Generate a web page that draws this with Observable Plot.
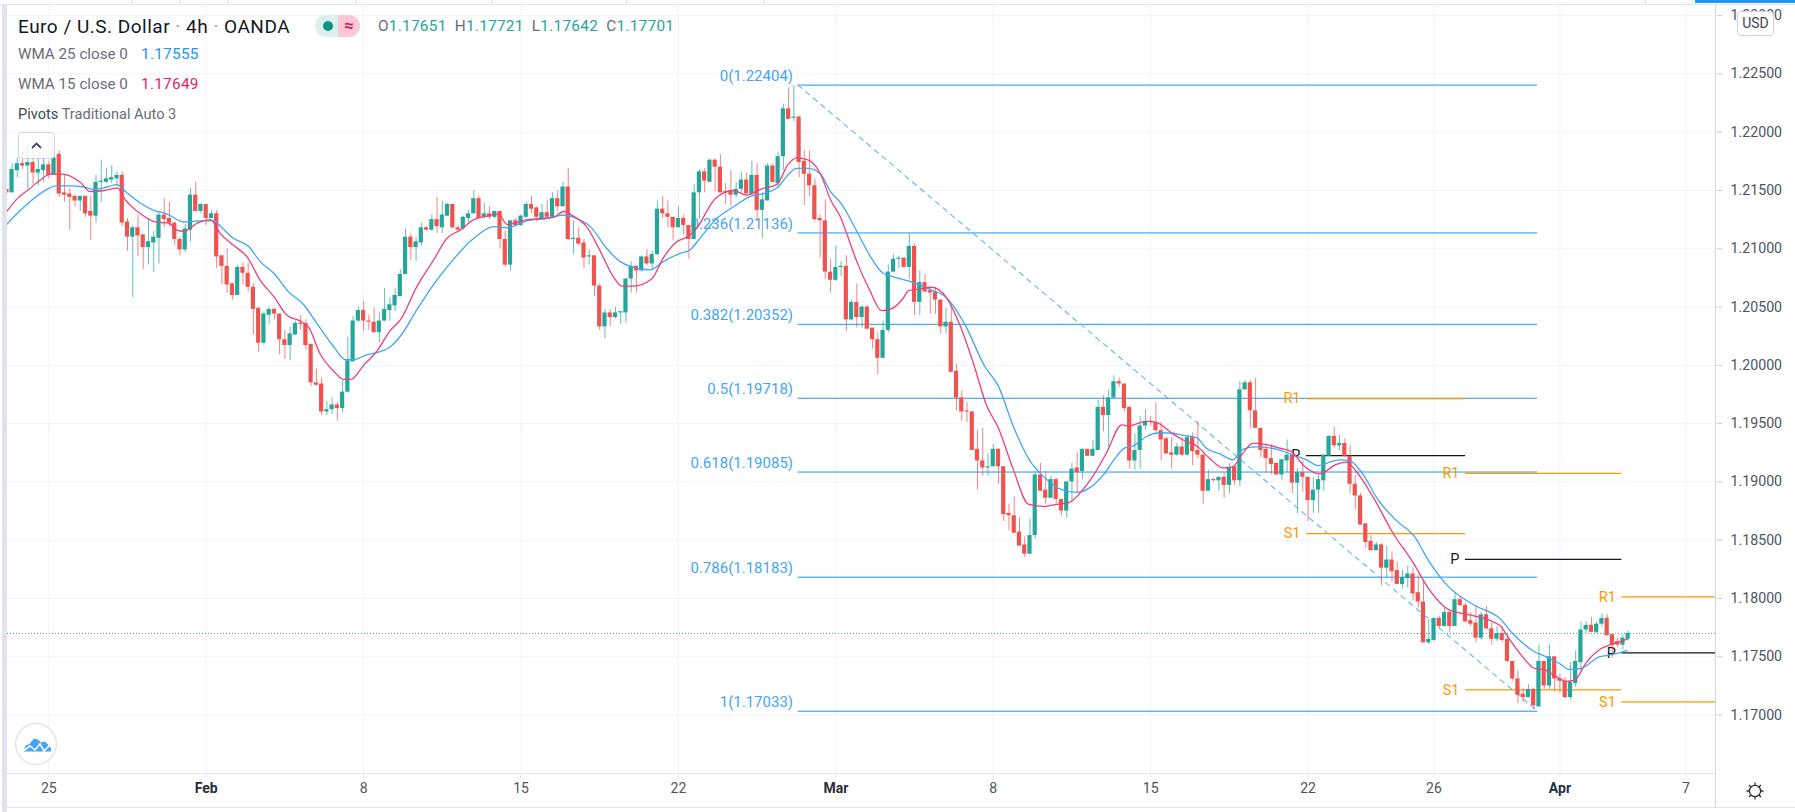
<!DOCTYPE html>
<html><head><meta charset="utf-8">
<script src="https://cdn.jsdelivr.net/npm/d3@7"></script>
<script src="https://cdn.jsdelivr.net/npm/@observablehq/plot@0.6"></script>
<style>
html,body{margin:0;padding:0;background:#fff;overflow:hidden}
#wrap{position:relative;width:1795px;height:812px;font-family:Roboto,sans-serif}
#wrap svg.plot{display:block}
.o{position:absolute;white-space:nowrap;line-height:1}
.b{position:absolute;background:#e0e3eb}
</style></head><body><div id="wrap"></div>
<script>
// Prices are in 1/10000 units (pips)
const opens=[12151,12148,12167,12173,12171,12174,12165,12167,12172,12163,
12181,12148,12147,12145,12141,12145,12132,12128,12157,12157,
12159,12160,12163,12123,12110,12118,12112,12101,12105,12109,
12129,12126,12122,12108,12099,12116,12146,12132,12138,12126,
12130,12094,12085,12070,12060,12084,12079,12067,12049,12019,
12043,12048,12044,12022,12017,12026,12036,12036,12018,11985,
11984,11960,11962,11966,11963,11977,12003,12038,12047,12038,
12037,12028,12038,12047,12051,12059,12078,12110,12101,12105,
12118,12116,12125,12118,12128,12138,12118,12117,12126,12130,
12143,12127,12130,12127,12132,12108,12086,12124,12120,12127,
12138,12135,12126,12131,12127,12143,12136,12153,12108,12109,
12105,12093,12094,12068,12033,12045,12041,12045,12045,12074,
12085,12081,12093,12087,12095,12134,12130,12127,12118,12126,
12120,12108,12148,12166,12157,12176,12170,12149,12150,12146,
12151,12159,12147,12163,12133,12141,12171,12156,12179,12220,
12212,12213,12175,12164,12154,12126,12124,12080,12073,12084,
12085,12039,12054,12041,12050,12032,12022,12006,12030,12080,
12091,12092,12084,12102,12054,12071,12064,12063,12056,12033,
12037,11995,11972,11961,11960,11928,11918,11912,11913,11928,
11913,11873,11871,11857,11846,11838,11854,11906,11893,11886,
11902,11885,11875,11900,11912,11909,11928,11922,11927,11964,
11957,11972,11986,11984,11964,11918,11927,11948,11952,11951,
11944,11937,11925,11923,11930,11923,11938,11927,11923,11892,
11902,11901,11904,11897,11913,11901,11979,11985,11961,11946,
11928,11920,11916,11906,11918,11923,11899,11908,11904,11884,
11893,11901,11922,11939,11931,11933,11922,11898,11888,11864,
11849,11841,11846,11826,11833,11824,11812,11817,11821,11805,
11797,11762,11764,11783,11776,11788,11776,11799,11794,11781,
11779,11766,11786,11774,11765,11770,11765,11746,11731,11718,
11715,11722,11707,11746,11725,11750,11731,11729,11715,11727,
11745,11773,11777,11771,11778,11783,11769,11763,11760,11765];
const highs=[12151,12173,12178,12184,12190,12186,12185,12177,12175,12181,
12184,12163,12152,12146,12145,12145,12145,12163,12176,12169,
12171,12166,12166,12126,12120,12129,12112,12126,12115,12131,
12143,12140,12123,12110,12121,12152,12157,12139,12138,12133,
12133,12094,12100,12070,12086,12088,12088,12070,12049,12046,
12050,12049,12044,12030,12033,12038,12043,12039,12018,11997,
11989,11969,11972,11968,11987,12024,12042,12050,12055,12043,
12049,12045,12066,12058,12066,12082,12117,12113,12110,12122,
12119,12129,12144,12141,12139,12138,12120,12128,12133,12150,
12145,12139,12136,12132,12132,12115,12124,12126,12129,12140,
12145,12136,12138,12141,12148,12150,12157,12169,12124,12118,
12108,12099,12094,12070,12048,12048,12050,12046,12075,12089,
12085,12094,12099,12098,12141,12145,12141,12127,12136,12129,
12120,12155,12168,12169,12177,12177,12181,12156,12167,12157,
12166,12165,12175,12173,12148,12173,12173,12183,12224,12238,
12240,12214,12184,12184,12160,12129,12142,12091,12102,12089,
12094,12056,12070,12051,12051,12032,12028,12038,12086,12095,
12094,12092,12113,12104,12081,12078,12067,12067,12056,12049,
12052,12001,11978,11968,11960,11944,11946,11924,11932,11928,
11913,11881,11887,11869,11853,11868,11909,11916,11909,11905,
11903,11885,11900,11916,11925,11928,11928,11936,11970,11974,
11979,11991,11989,11984,11964,11941,11956,11962,11956,11968,
11951,11938,11938,11933,11938,11939,11942,11952,11923,11910,
11903,11904,11908,11916,11914,11986,11987,11987,11989,11946,
11933,11932,11916,11919,11936,11927,11911,11918,11904,11904,
11906,11923,11940,11947,11940,11937,11931,11906,11890,11864,
11854,11848,11847,11845,11840,11831,11824,11828,11826,11820,
11816,11782,11783,11785,11792,11789,11805,11801,11796,11788,
11794,11788,11793,11779,11776,11776,11769,11746,11738,11723,
11726,11723,11760,11746,11760,11750,11735,11732,11745,11755,
11780,11780,11784,11780,11787,11786,11769,11766,11769,11772];
const lows=[12148,12148,12161,12168,12151,12155,12154,12157,12160,12163,
12144,12140,12116,12136,12132,12127,12107,12122,12140,12156,
12156,12153,12119,12098,12058,12093,12082,12086,12080,12087,
12118,12119,12103,12094,12097,12106,12132,12130,12120,12126,
12083,12069,12062,12056,12060,12069,12063,12026,12011,12017,
12035,12039,12009,12005,12004,12026,12030,12013,11982,11982,
11957,11957,11958,11952,11959,11976,12003,12037,12029,12030,
12028,12019,12038,12038,12046,12059,12078,12090,12089,12102,
12115,12115,12113,12113,12128,12117,12115,12116,12122,12130,
12126,12125,12125,12126,12100,12084,12081,12119,12119,12126,
12130,12123,12126,12126,12126,12132,12136,12107,12095,12103,
12083,12086,12059,12030,12023,12033,12040,12035,12036,12062,
12062,12080,12086,12082,12094,12126,12118,12107,12118,12112,
12091,12108,12125,12148,12157,12149,12148,12138,12136,12144,
12148,12147,12146,12124,12109,12141,12156,12153,12167,12211,
12209,12161,12137,12145,12123,12092,12074,12062,12072,12076,
12029,12038,12032,12032,12031,12014,11992,12006,12028,12079,
12083,12084,12074,12043,12043,12062,12044,12044,12027,12027,
11994,11961,11952,11951,11927,11893,11905,11905,11913,11898,
11866,11858,11856,11845,11835,11838,11851,11892,11881,11886,
11881,11871,11869,11882,11891,11902,11922,11922,11927,11943,
11929,11972,11981,11960,11911,11910,11911,11944,11948,11942,
11918,11924,11911,11922,11922,11922,11914,11920,11881,11892,
11900,11892,11886,11890,11897,11896,11979,11946,11946,11921,
11908,11906,11906,11901,11908,11890,11873,11891,11866,11873,
11873,11892,11922,11929,11927,11921,11890,11876,11863,11843,
11841,11841,11811,11818,11814,11812,11808,11809,11798,11792,
11762,11761,11763,11774,11776,11771,11776,11793,11779,11776,
11762,11764,11773,11760,11763,11762,11745,11729,11710,11711,
11715,11705,11707,11722,11722,11720,11719,11714,11713,11724,
11738,11770,11771,11770,11775,11768,11749,11758,11756,11764];
const closes=[12148,12168,12173,12171,12174,12165,12168,12172,12163,12178,
12147,12146,12144,12141,12145,12130,12128,12157,12158,12160,
12161,12163,12122,12110,12118,12111,12101,12106,12110,12129,
12125,12122,12108,12099,12117,12146,12132,12138,12126,12130,
12093,12085,12069,12060,12084,12079,12067,12048,12019,12044,
12048,12044,12022,12017,12027,12036,12035,12017,11985,11983,
11960,11962,11966,11963,11977,12004,12038,12047,12038,12037,
12028,12038,12048,12052,12060,12078,12110,12101,12106,12118,
12116,12125,12119,12129,12138,12118,12116,12127,12130,12143,
12126,12130,12127,12132,12108,12086,12124,12120,12128,12138,
12134,12127,12131,12127,12143,12136,12153,12108,12109,12104,
12092,12094,12068,12033,12045,12041,12045,12046,12074,12085,
12081,12093,12087,12095,12134,12130,12127,12118,12126,12120,
12108,12148,12166,12158,12176,12170,12148,12148,12146,12151,
12159,12147,12163,12133,12142,12171,12157,12179,12220,12211,
12213,12174,12164,12154,12125,12124,12080,12073,12084,12085,
12039,12054,12041,12050,12031,12022,12006,12030,12080,12091,
12092,12084,12102,12054,12071,12063,12062,12056,12033,12037,
11994,11972,11960,11960,11927,11918,11912,11913,11928,11913,
11872,11871,11856,11845,11838,11854,11906,11892,11886,11902,
11885,11875,11900,11911,11908,11928,11922,11928,11964,11957,
11972,11986,11984,11963,11918,11927,11948,11952,11951,11944,
11936,11924,11923,11930,11923,11938,11926,11923,11892,11902,
11901,11904,11897,11912,11901,11979,11985,11961,11946,11927,
11920,11915,11906,11919,11923,11899,11908,11904,11884,11893,
11902,11923,11939,11931,11933,11922,11898,11888,11863,11848,
11841,11846,11826,11833,11823,11812,11818,11821,11804,11797,
11762,11765,11783,11776,11788,11776,11799,11794,11780,11778,
11766,11786,11774,11765,11770,11764,11746,11731,11717,11715,
11722,11708,11746,11725,11750,11731,11729,11715,11728,11746,
11773,11777,11771,11778,11783,11768,11760,11760,11766,11770];

const wma25Bars=[0,2.6,5.1,7.7,9.3,12.1,14.7,16.6,19.1,21,22.9,25.5,28,30.5,33.7,36.9,39.4,41,43.2,46.1,48.3,50.9,53.7,56.6,59.1,62.3,64.5,66.1,68.6,70.5,73.1,75,78.2,81.3,84.2,89,92.8,95.3,99.1,102.9,106.1,108,111.2,114.4,116.9,118.8,122.6,125.1,128.3,130.2,132.1,135.3,138.5,141.7,144.8,147,149,150.5,152.8,155.1,157,159,162,164.5,167,169,172.1,176,179.1,182.6,186.4,189,191.8,195,197.5,200.7,203.9,206.7,209,211.5,213,214.7,217.2,219.4,221.7,224.2,226.7,228.6,231.2,233.7,235.6,238,242.1,245.2,247.7,250,251.5,254,256,257.9,261.6,264.8,268.3,270.9,274.8,279.8,284.5,287,290.9,293.4,296,297.9,300,303.5,306.1,308.8];
const wma25Vals=[12121,12133,12143,12151,12154,12154,12153,12151,12153,12155,12148,12139,12133,12130,12123,12124,12124,12118,12109,12102,12089,12079,12063,12052,12036,12016,12005,12005,12009,12011,12016,12025,12048,12069,12086,12109,12119,12118,12124,12126,12129,12127,12119,12100,12089,12085,12082,12089,12096,12099,12109,12126,12136,12145,12148,12153,12164,12169,12169,12164,12149,12139,12115,12094,12079,12076,12072,12065,12058,12035,11999,11982,11948,11918,11905,11894,11891,11896,11906,11922,11929,11931,11939,11942,11942,11940,11938,11929,11924,11919,11928,11930,11928,11923,11919,11914,11916,11919,11918,11910,11883,11867,11853,11833,11810,11794,11783,11770,11755,11750,11744,11739,11740,11750,11752,11755.5];
const wma15Bars=[0,2,4.2,6.4,8.3,10.5,14,15.9,18.5,21.1,22.6,25.5,28.3,30.9,32.4,33.7,36.3,38.8,40.7,43.2,45.8,48.3,50.9,53.4,55.9,57.5,59.7,62.3,64.2,65.6,68,70.5,73.1,75,78.2,81.3,83.9,86.4,89,91.5,93.7,95.3,96.9,99.1,101.7,104.2,106.1,108,110.5,113.1,115.6,117.2,119.4,122.9,125.1,127.7,129.6,131.2,135,138.5,141,143.6,146.7,149,150.5,152.8,155.1,157,159,160,162,164.5,166.7,168.3,170.9,171.8,173.4,176.3,179.1,181.7,184.2,186.7,189,191.8,194.7,197.5,200.4,202.3,205.2,207,209.6,212.5,213.7,217.2,219.1,222.3,224.2,226.7,229.3,231.8,233.7,235.3,237.5,240,242.6,244.8,247.4,250.2,253.4,255.3,257.2,260.4,264.2,268,270.9,275,278.8,284.5,286.4,288.9,291.2,293,295.3,297.2,298.8,301,303.5,306.1,308.8];
const wma15Vals=[12132,12143,12151,12159,12164,12164,12157,12149,12150,12152,12142,12130,12123,12122,12116,12115,12122,12125,12113,12103,12093,12073,12059,12043,12038,12033,12010,11995,11988,11988,12000,12012,12030,12039,12068,12090,12109,12116,12125,12128,12130,12121,12122,12125,12126,12127,12132,12128,12119,12098,12076,12068,12068,12074,12092,12106,12110,12116,12143,12150,12146,12151,12155,12173,12178,12176,12164,12142,12126,12114,12089,12064,12047,12048,12058,12064,12065,12067,12058,12034,12002,11966,11946,11911,11881,11879,11881,11882,11894,11905,11925,11949,11948,11952,11951,11941,11936,11931,11920,11912,11913,11923,11933,11932,11929,11926,11913,11907,11915,11917,11909,11887,11856,11831,11809,11790,11786,11777,11765,11750,11740,11739,11733,11729,11730,11745,11756,11761,11765];

const fibRatios=["0","0.236","0.382","0.5","0.618","0.786","1"];
const fibLevels=[1.22404,1.21136,1.20352,1.19718,1.19085,1.18183,1.17033];
const fibStart=150.8, fibEnd=291.75;

const pivotNames=["R1","P","S1","R1","P","S1","R1","P","S1"];
const pivotLevels=[1.19714,1.19225,1.18556,1.19073,1.18336,1.17216,1.18014,1.17533,1.17113];
const pivotStarts=[247.7,247.7,247.7,278,278,278,307.8,307.8,307.8];
const pivotEnds=[278,278,278,307.8,307.8,307.8,325.84,325.84,325.84];

const lastPrice=1.17701;
const priceTicks=[1.17,1.175,1.18,1.185,1.19,1.195,1.2,1.205,1.21,1.215,1.22,1.225,1.23];
const dateTicks=[8,38,68,98,128,158,188,218,248,272,296,320];
const dateLabels=["25","Feb","8","15","22","Mar","8","15","22","26","Apr","7"];
const boldLabels=["Feb","Mar","Apr"];

const bars=opens.map((o,i)=>({i,o:o/1e4,h:highs[i]/1e4,l:lows[i]/1e4,c:closes[i]/1e4,up:closes[i]>=o}));
const wma25=wma25Bars.map((i,k)=>({i,v:wma25Vals[k]/1e4}));
const wma15=wma15Bars.map((i,k)=>({i,v:wma15Vals[k]/1e4}));
const fibs=fibLevels.map((v,k)=>({v,label:`${fibRatios[k]}(${v.toFixed(5)})`}));
const pivots=pivotNames.map((n,k)=>({n,v:pivotLevels[k],a:pivotStarts[k],b:pivotEnds[k]}));
const labelOf=d=>dateLabels[dateTicks.indexOf(d)];
const GREEN="#26a69a",RED="#ef5350",AXIS="#50535e",FIB="#2196f3",ORANGE="#ff9800",BLK="#131722";
const isBold=d=>boldLabels.includes(labelOf(d));

const chart=Plot.plot({
  width:1795,height:812,marginLeft:7,marginRight:79,marginTop:5,marginBottom:39,
  x:{domain:[0.133,325.84],axis:null},
  y:{domain:[1.16499,1.23087],axis:null},
  style:{fontFamily:"Roboto,sans-serif",background:"transparent",overflow:"visible"},
  marks:[
    Plot.gridY({ticks:priceTicks,stroke:"#f0f3fa",strokeOpacity:1}),
    Plot.gridX({ticks:dateTicks,stroke:"#f0f3fa",strokeOpacity:1}),
    Plot.axisY({anchor:"right",ticks:priceTicks,tickFormat:d=>d.toFixed(5),tickSize:5,tickPadding:9,fontSize:14.2,fill:AXIS,stroke:"#c8cad2",label:null}),
    Plot.axisX({anchor:"bottom",ticks:dateTicks.filter(d=>!isBold(d)),tickFormat:labelOf,tickSize:4,tickPadding:6,fontSize:14,fill:AXIS,stroke:"#e0e3eb",label:null}),
    Plot.axisX({anchor:"bottom",ticks:dateTicks.filter(isBold),tickFormat:labelOf,tickSize:4,tickPadding:6,fontSize:14,fontWeight:700,fill:"#2a2e39",stroke:"#e0e3eb",label:null}),
    Plot.ruleY([lastPrice],{stroke:GREEN,strokeDasharray:"1,2",strokeWidth:1}),
    Plot.ruleY(fibs,{y:"v",x1:fibStart,x2:fibEnd,stroke:FIB,strokeWidth:1}),
    Plot.line([{i:fibStart,v:fibLevels[0]},{i:fibEnd,v:fibLevels[6]}],{x:"i",y:"v",stroke:"#64b5f6",strokeWidth:1.1,strokeDasharray:"5,5"}),
    Plot.text(fibs,{x:fibStart,y:"v",text:"label",textAnchor:"end",dx:-5,dy:-9,fill:"#42a5f5",fontSize:15}),
    Plot.ruleY(pivots,{y:"v",x1:"a",x2:"b",stroke:d=>d.n==="P"?BLK:ORANGE,strokeWidth:1.2}),
    Plot.text(pivots,{x:"a",y:"v",text:"n",textAnchor:"end",dx:-6,fill:d=>d.n==="P"?BLK:ORANGE,fontSize:14.5}),
    Plot.ruleX(bars,{x:"i",y1:"l",y2:"h",stroke:d=>d.up?GREEN:RED,strokeWidth:1,strokeOpacity:.72,clip:true}),
    Plot.rect(bars,{x1:d=>d.i-.4,x2:d=>d.i+.4,y1:"o",y2:"c",fill:d=>d.up?GREEN:RED,clip:true}),
    Plot.line(wma25,{x:"i",y:"v",stroke:"#42a5f5",strokeWidth:1.3,curve:"monotone-x"}),
    Plot.line(wma15,{x:"i",y:"v",stroke:"#ec407a",strokeWidth:1.3,curve:"monotone-x"})
  ]
});
const wrap=document.getElementById("wrap");
wrap.appendChild(chart);
const add=(html)=>wrap.insertAdjacentHTML("beforeend",html);
// chart chrome
add(`<div class="b" style="left:2px;top:5px;width:5px;height:807px"></div>
<div class="b" style="left:0;top:4px;width:1795px;height:1px"></div>
<div class="b" style="left:7px;top:773px;width:1709px;height:1px"></div>
<div class="b" style="left:7px;top:807px;width:1788px;height:1px"></div>
<div class="b" style="left:1715px;top:5px;width:1px;height:802px;background:#d6d8de"></div>
<div class="b" style="left:1695px;top:0;width:100px;height:3px;background:#2196f3"></div>`);
[132,180,228,356,491,626,763,1645].forEach(x=>add(`<div class="b" style="left:${x}px;top:0;width:1px;height:4px"></div>`));
// header
add(`<div class="o" style="left:18px;top:17px;font-size:19px;letter-spacing:.5px;color:#131722">Euro / U.S. Dollar<span style="color:#9598a1"> · </span>4h<span style="color:#9598a1"> · </span>OANDA</div>
<div class="o" style="left:315px;top:15px;width:23px;height:22px;background:#def0ee;border-radius:11px 0 0 11px"></div>
<div class="o" style="left:338px;top:15px;width:22px;height:22px;background:#fbc9d6;border-radius:0 11px 11px 0;color:#d6175d;font-size:17px;font-weight:700;text-align:center;line-height:21px">≈</div>
<div class="o" style="left:323px;top:21px;width:10px;height:10px;border-radius:5px;background:#089981"></div>
<div class="o" style="left:378px;top:19px;font-size:15.4px;color:#6a6d78;letter-spacing:.25px">O<span style="color:${GREEN}">1.17651</span>&nbsp; H<span style="color:${GREEN}">1.17721</span>&nbsp; L<span style="color:${GREEN}">1.17642</span>&nbsp; C<span style="color:${GREEN}">1.17701</span></div>
<div class="o" style="left:18px;top:47px;font-size:15.2px;color:#6a6d78">WMA 25 close 0</div>
<div class="o" style="left:141px;top:47px;font-size:15.4px;color:#2196f3;letter-spacing:.25px">1.17555</div>
<div class="o" style="left:18px;top:77px;font-size:15.2px;color:#6a6d78">WMA 15 close 0</div>
<div class="o" style="left:141px;top:77px;font-size:15.4px;color:#e91e63;letter-spacing:.25px">1.17649</div>
<div class="o" style="left:18px;top:107px;font-size:14.6px;color:#6a6d78"><span style="color:#434651">Pivots</span> Traditional Auto 3</div>
<div class="o" style="left:18px;top:132px;width:35px;height:25px;border:1px solid #d1d4dc;border-radius:4px;background:rgba(255,255,255,.78)"><svg width="35" height="25"><path d="M13 15l4.5-4.5 4.5 4.5" fill="none" stroke="#434651" stroke-width="1.8"/></svg></div>
<div class="o" style="left:1737px;top:11px;width:35px;height:23px;border:1px solid #d1d4dc;border-radius:4px;background:#fff;font-size:14px;color:#434651;text-align:center;line-height:23px">USD</div>
<svg class="o" style="left:14px;top:722px" width="44" height="44"><circle cx="22" cy="22" r="20.5" fill="#fff" stroke="#e0e3eb" stroke-width="1.3"/><path d="M9 29l3-6 3-.5 5-6 4 1 3 3 4-1 4 4 2 3v3H10z" fill="#42a5f5"/><path d="M9 27l7-5 5 4 5-6 4 7 6-6" fill="none" stroke="#fff" stroke-width="1.6" transform="translate(0,2)"/></svg>
<svg class="o" style="left:1745px;top:781px" width="20" height="20"><g fill="none" stroke="#2a2e39" stroke-width="1.3"><circle cx="10" cy="10" r="5.6"/><path d="M10 1.5v3M10 15.5v3M1.5 10h3M15.5 10h3M4 4l2 2M14 14l2 2M16 4l-2 2M6 14l-2 2"/></g></svg>`);
</script></body></html>
